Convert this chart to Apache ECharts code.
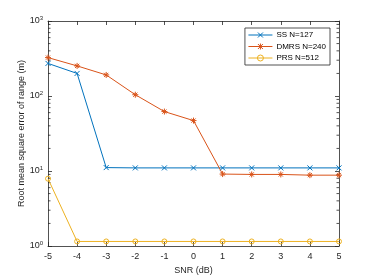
<!DOCTYPE html>
<html><head><meta charset="utf-8">
<script src="https://cdn.jsdelivr.net/npm/echarts@6/dist/echarts.min.js"></script>
<style>html,body{margin:0;padding:0;background:#fff}#c{width:374px;height:280px}</style>
</head><body><div id="c"></div>
<script>
const snr = [-5,-4,-3,-2,-1,0,1,2,3,4,5];
const ssVals   = [272,200,11.1,11,11,11,11,11,11,11,11];
const dmrsVals = [325,252,191,104,62,47,9.1,9.0,9.0,8.8,8.8];
const prsVals  = [7.9,1.15,1.15,1.15,1.15,1.15,1.15,1.15,1.15,1.15,1.15];
const seriesNames = ['SS N=127','DMRS N=240','PRS N=512'];
const minorMult = [2,3,4,5,6,7,8,9];
const decades = [1,10,100];
const minorTicks = [];
decades.forEach(d => minorMult.forEach(m => minorTicks.push(m*d)));

const colors = ['#0072BD','#D95319','#EDB120'];
const font = 'Liberation Sans, Arial, sans-serif';
const xSym = 'path://M0,0L10,10M10,0L0,10';
const starSym = 'path://M5,0L5,10M0,5L10,5M1.5,1.5L8.5,8.5M8.5,1.5L1.5,8.5';
const circSym = 'path://M10,5A5,5,0,1,1,0,5A5,5,0,1,1,10,5Z';
const legendIcons = [
  'path://M0,3L24,3M9.5,0.5L14.5,5.5M14.5,0.5L9.5,5.5',
  'path://M0,3L24,3M12,0L12,6M9.5,0.5L14.5,5.5M14.5,0.5L9.5,5.5',
  'path://M0,3L24,3M15,3A3,3,0,1,1,9,3A3,3,0,1,1,15,3'
];

const chart = echarts.init(document.getElementById('c'), null, {renderer:'canvas'});
const axisLine = {show:true, onZero:false, lineStyle:{color:'#262626', width:0.8}};
const tick = {show:true, inside:true, length:4, lineStyle:{color:'#262626', width:0.8}};
function mkLine(name, data, color, symbol, size){
  return {
    name, type:'line', data: snr.map((x,i)=>[x,data[i]]),
    symbol, symbolSize:size, showSymbol:true,
    lineStyle:{color, width:1},
    itemStyle:{color:'transparent', borderColor:color, borderWidth:1},
    emphasis:{disabled:true}, animation:false, z:3
  };
}
chart.setOption({
  animation:false,
  textStyle:{fontFamily:font},
  grid:{left:48, right:35, top:21, bottom:32},
  legend:{
    show:true, orient:'vertical', right:44, top:28,
    data: seriesNames.map((n,i)=>({name:n, icon:legendIcons[i],
      itemStyle:{color:'transparent', borderColor:colors[i], borderWidth:1}})),
    itemWidth:24, itemHeight:6, itemGap:3.5, padding:[3,4,3,3],
    borderColor:'#262626', borderWidth:0.8, backgroundColor:'#fff',
    textStyle:{fontSize:8, color:'#000', fontFamily:font, padding:[0,0,0,-1]}
  },
  xAxis:[{
    type:'value', min:-5, max:5, interval:1,
    name:'SNR (dB)', nameLocation:'middle', nameGap:20, nameMoveOverlap:false,
    nameTextStyle:{fontSize:9, color:'#262626'},
    axisLine, axisTick:tick, splitLine:{show:false},
    axisLabel:{fontSize:9, color:'#262626', margin:6}
  },{
    type:'value', min:-5, max:5, interval:1, position:'top',
    axisLine, axisTick:tick, axisLabel:{show:false}, splitLine:{show:false}
  }],
  yAxis:[{
    type:'log', logBase:10, min:1, max:1000,
    name:'Root mean square error of range (m)', nameLocation:'middle', nameGap:21.5, nameMoveOverlap:false,
    nameTextStyle:{fontSize:9, color:'#262626'},
    axisLine, axisTick:tick, splitLine:{show:false},
    axisLabel:{
      margin:5, color:'#262626',
      formatter: v => '{b|10}{s|' + Math.round(Math.log10(v)) + '}',
      rich:{b:{fontSize:9, color:'#262626', fontFamily:font}, s:{fontSize:6, color:'#262626', verticalAlign:'bottom', padding:[0,0,6,0], fontFamily:font}}
    }
  },{
    type:'log', logBase:10, min:1, max:1000, position:'right',
    axisLine, axisTick:tick, axisLabel:{show:false}, splitLine:{show:false}
  }],
  series:[
    mkLine(seriesNames[0], ssVals, colors[0], xSym, 5),
    mkLine(seriesNames[1], dmrsVals, colors[1], starSym, 6),
    mkLine(seriesNames[2], prsVals, colors[2], circSym, 5),
    {
      type:'custom', silent:true, animation:false, z:1,
      data: minorTicks.map(v=>[-5, v]),
      renderItem:(params, api)=>{
        const cs = params.coordSys;
        const p = api.coord([-5, api.value(1)]);
        const st = {stroke:'#262626', lineWidth:0.8};
        return {type:'group', children:[
          {type:'line', shape:{x1:cs.x, y1:p[1], x2:cs.x+2.5, y2:p[1]}, style:st},
          {type:'line', shape:{x1:cs.x+cs.width, y1:p[1], x2:cs.x+cs.width-2.5, y2:p[1]}, style:st}
        ]};
      }
    }
  ]
});
</script></body></html>
